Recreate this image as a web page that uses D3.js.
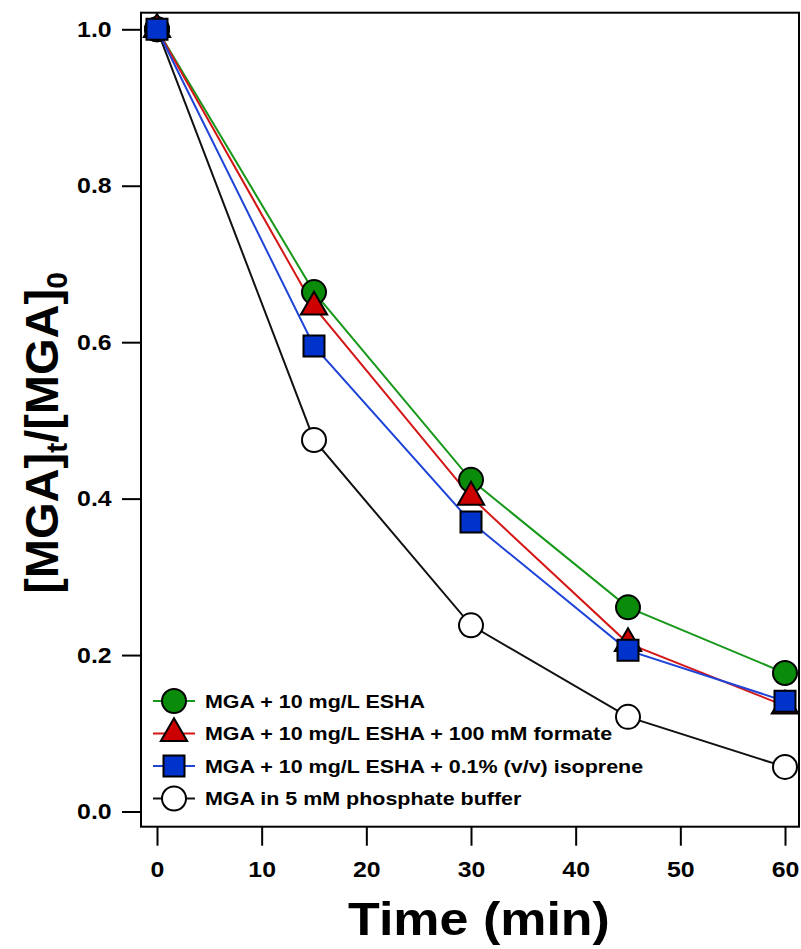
<!DOCTYPE html>
<html>
<head>
<meta charset="utf-8">
<script src="https://cdn.jsdelivr.net/npm/d3@7/dist/d3.min.js"></script>
<style>
  html, body { margin: 0; padding: 0; background: #fff; }
  svg { display: block; font-family: "Liberation Sans", Arial, sans-serif; font-weight: bold; }
</style>
</head>
<body>
<svg id="chart" width="801" height="949"></svg>
<script>
// Sampling times (min)
const times = [0, 15, 30, 45, 60];

// Normalised MGA concentration [MGA]t/[MGA]0 for each condition
const eshaValues     = [1.0, 0.664, 0.424, 0.261, 0.177];
const formateValues  = [1.0, 0.645, 0.402, 0.215, 0.135];
const isopreneValues = [1.0, 0.595, 0.370, 0.206, 0.141];
const bufferValues   = [1.0, 0.475, 0.238, 0.121, 0.057];

const seriesNames = [
  "MGA + 10 mg/L ESHA",
  "MGA + 10 mg/L ESHA + 100 mM formate",
  "MGA + 10 mg/L ESHA + 0.1% (v/v) isoprene",
  "MGA in 5 mM phosphate buffer"
];

const xTicks = [0, 10, 20, 30, 40, 50, 60];
const yTicks = [0.0, 0.2, 0.4, 0.6, 0.8, 1.0];

const svg = d3.select("#chart");

// Plot frame in pixels
const frame = { left: 141, right: 799, top: 12.7, bottom: 826.7 };

const x = d3.scaleLinear().domain([0, 60]).range([157, 785]);
const y = d3.scaleLinear().domain([0, 1]).range([811.5, 29.3]);

// Text is drawn slightly wide
const textStretch = 1.13;

const series = [
  { name: seriesNames[3], values: bufferValues,   line: "#111111", fill: "#ffffff", shape: "circle" },
  { name: seriesNames[0], values: eshaValues,     line: "#18981a", fill: "#0a8c0a", shape: "circle" },
  { name: seriesNames[1], values: formateValues,  line: "#d41616", fill: "#cc0000", shape: "triangle" },
  { name: seriesNames[2], values: isopreneValues, line: "#1f44d8", fill: "#0033cc", shape: "square" }
];

const symbolFor = {
  circle: d3.symbol().type(d3.symbolCircle).size(Math.PI * 12 * 12),
  triangle: d3.symbol().type(d3.symbolTriangle).size(300),
  square: d3.symbol().type(d3.symbolSquare).size(21 * 21)
};

// Frame
svg.append("rect")
  .attr("x", frame.left).attr("y", frame.top)
  .attr("width", frame.right - frame.left).attr("height", frame.bottom - frame.top)
  .attr("fill", "none").attr("stroke", "#000").attr("stroke-width", 2);

// X axis
const xAxis = svg.append("g")
  .attr("transform", `translate(0,${frame.bottom})`)
  .call(d3.axisBottom(x).tickValues(xTicks).tickSize(19).tickPadding(16).tickFormat(d3.format("d")));
xAxis.select(".domain").remove();
xAxis.selectAll(".tick line").attr("stroke", "#000").attr("stroke-width", 2);
xAxis.selectAll(".tick text")
  .attr("font-size", 22).attr("font-weight", "bold").attr("fill", "#000")
  .attr("font-family", "Liberation Sans, Arial, sans-serif")
  .attr("transform", `scale(${textStretch},1)`);

// Y axis
const yAxis = svg.append("g")
  .attr("transform", `translate(${frame.left},0)`)
  .call(d3.axisLeft(y).tickValues(yTicks).tickSize(19).tickPadding(7).tickFormat(d3.format(".1f")));
yAxis.select(".domain").remove();
yAxis.selectAll(".tick line").attr("stroke", "#000").attr("stroke-width", 2);
yAxis.selectAll(".tick text")
  .attr("font-size", 22).attr("font-weight", "bold").attr("fill", "#000")
  .attr("font-family", "Liberation Sans, Arial, sans-serif")
  .attr("transform", `scale(${textStretch},1)`);

// Axis titles
svg.append("text")
  .attr("x", 479 / textStretch).attr("y", 935)
  .attr("transform", `scale(${textStretch},1)`)
  .attr("text-anchor", "middle")
  .attr("font-size", 46)
  .text("Time (min)");

const yTitle = svg.append("text")
  .attr("transform", "translate(58,433) rotate(-90)")
  .attr("text-anchor", "middle")
  .attr("font-size", 47);
yTitle.append("tspan").text("[MGA]");
yTitle.append("tspan").attr("font-size", 30).attr("dy", 9).text("t");
yTitle.append("tspan").attr("dy", -9).text("/[MGA]");
yTitle.append("tspan").attr("font-size", 30).attr("dy", 9).text("0");

// Data lines
const line = d3.line().x((d, i) => x(times[i])).y(d => y(d));
svg.append("g").selectAll("path")
  .data(series)
  .join("path")
  .attr("d", s => line(s.values))
  .attr("fill", "none")
  .attr("stroke", s => s.line)
  .attr("stroke-width", 2);

// Markers
series.forEach(s => {
  svg.append("g").selectAll("path")
    .data(s.values)
    .join("path")
    .attr("transform", (d, i) => `translate(${x(times[i])},${y(d)})`)
    .attr("d", symbolFor[s.shape])
    .attr("fill", s.fill)
    .attr("stroke", "#000")
    .attr("stroke-width", 2);
});

// Legend
const legendOrder = [series[1], series[2], series[3], series[0]];
const legend = svg.append("g");
legendOrder.forEach((s, i) => {
  const cy = 701 + i * 32.5;
  legend.append("line")
    .attr("x1", 153).attr("x2", 195).attr("y1", cy).attr("y2", cy)
    .attr("stroke", s.line).attr("stroke-width", 2);
  legend.append("path")
    .attr("transform", `translate(174,${cy})`)
    .attr("d", symbolFor[s.shape])
    .attr("fill", s.fill).attr("stroke", "#000").attr("stroke-width", 2);
  legend.append("text")
    .attr("x", 205 / textStretch).attr("y", cy + 7)
    .attr("transform", `scale(${textStretch},1)`)
    .attr("font-size", 19)
    .text(s.name);
});
</script>
</body>
</html>
